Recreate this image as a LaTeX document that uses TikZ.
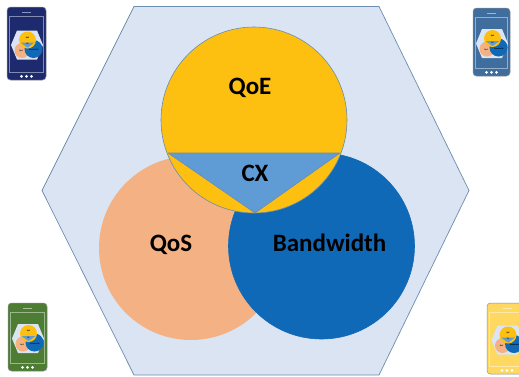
\documentclass[tikz,border=0pt]{standalone}
\usepackage{fontspec}
\setmainfont{Carlito}
\definecolor{hexfill}{HTML}{DAE4F2}
\definecolor{edgeblue}{HTML}{6A8DB0}
\definecolor{qoe}{HTML}{FEC010}
\definecolor{qos}{HTML}{F4B183}
\definecolor{band}{HTML}{1069B7}
\definecolor{cx}{HTML}{5F9BD5}
\definecolor{navy}{HTML}{1E2A6E}
\definecolor{steel}{HTML}{3F6E9E}
\definecolor{leaf}{HTML}{4C7D33}
\definecolor{butter}{HTML}{FFD862}
\tikzset{
  x=1pt,y=-1pt,
  hexa/.style={fill=hexfill,draw=edgeblue,line width=0.7pt},
  venn/.style={draw=edgeblue,line width=0.6pt,line join=round},
  lab/.style={font=\fontsize{25}{25}\selectfont\bfseries,text=black,inner sep=0pt},
  minilab/.style={font=\fontsize{2}{2}\selectfont\bfseries,text=black,inner sep=0pt},
  body/.style={draw=black!45,line width=0.5pt,rounded corners=3.5pt},
  screen/.style={draw=white,draw opacity=0.45,line width=0.6pt},
}
% \phone{name}{centre x}{centre y}{half width}{half height}{colour}
\newcommand{\phone}[6]{%
  \path[body,fill=#6] (#2-#4,#3-#5) rectangle (#2+#4,#3+#5);
  \path[screen] (#2-#4+2.5,#3-#5+9.5) rectangle (#2+#4-2.5,#3+#5-8);
  \path[draw=white,draw opacity=0.5,line width=0.8pt] (#2-4.5,#3-#5+5) -- (#2+4.5,#3-#5+5);
  \foreach \d in {-5,0,5} \fill[white] (#2+\d,#3+#5-3.7) circle (1.5);
  \begin{scope}[shift={(#2+0.5,#3+1.5)}]
    \path[fill=hexfill] (-10,-14.5) -- (10,-14.5) -- (16,0) -- (10,14.5) -- (-10,14.5) -- (-16,0) -- cycle;
    \fill[qos] (-5,5.5) circle (7.5);
    \fill[band] (6.5,4) circle (9);
    \fill[qoe] (0.5,-5) circle (8.5);
    \fill[cx] (-6.5,-2.5) -- (7.5,-2.5) -- (0.5,2.6) -- cycle;
    \node[minilab] (#1qoe) at (0.5,-7.5) {QoE};
    \node[minilab] (#1cx) at (0.5,-1) {CX};
    \node[minilab] (#1qos) at (-6,6) {QoS};
    \node[minilab] (#1bw) at (7,5) {Bandwidth};
  \end{scope}
}
\begin{document}
\begin{tikzpicture}
\useasboundingbox (0,0) rectangle (519,376);
\clip (0,0) rectangle (519,376);
\fill[white] (0,0) rectangle (519,376);
\path[hexa] (134,6.5) -- (379,6.5) -- (469,190.5) -- (379,375) -- (134,375) -- (42,190.5) -- cycle;
\fill[qos] (191,248) circle (92);
\path[venn,draw=band,fill=band] (321.5,246) circle (93);
\path[venn,fill=qoe] (254,120) circle (93);
\path[venn,fill=cx] (168,153) -- (340,153) -- (255,213) -- cycle;
\node[lab] (qoe) at (250,88) {QoE};
\node[lab] (cxl) at (255,173) {CX};
\node[lab] (qos) at (171,245) {QoS};
\node[lab] (bw) at (329.5,243) {Bandwidth};
\phone{a}{26.5}{43.5}{19.5}{36.5}{navy}
\phone{b}{491.5}{42}{18.5}{34}{steel}
\phone{c}{27.5}{337}{19.5}{34}{leaf}
\phone{d}{507}{338.5}{20}{35.5}{butter}
\end{tikzpicture}
\end{document}
